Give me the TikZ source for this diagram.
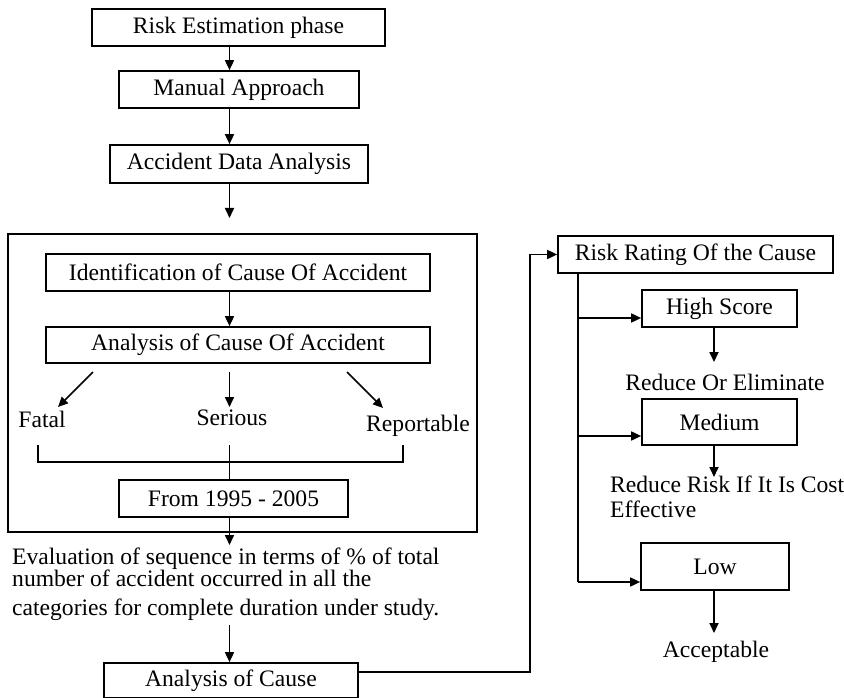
\documentclass[tikz,border=0pt]{standalone}
\usepackage{fontspec}
\setmainfont{Liberation Serif}
\usetikzlibrary{arrows.meta}
% multi-line labels keep their exact baseline spacing
\lineskiplimit=-100pt\relax
\lineskip=0pt\relax
\begin{document}
\begin{tikzpicture}[x=1pt,y=-1pt,
  every node/.style={font=\fontsize{23.6}{27}\selectfont, inner sep=0pt},
  box/.style={draw, line width=1.7pt, minimum width=#1, rectangle},
  line/.style={line width=1.7pt},
  arr/.style={line width=1.7pt, -{Triangle[length=10pt,width=9pt]}},
  lbl/.style={anchor=center},
  tight/.style={font=\fontsize{23.6}{#1}\selectfont}
]
\useasboundingbox (0,0) rectangle (844,698);

% left column
\node[box=293pt, minimum height=37pt] (est)   at (238.5,27.5) {Risk Estimation phase};
\node[box=240pt, minimum height=37pt] (man)   at (239,89.5)   {Manual Approach};
\node[box=258pt, minimum height=38pt] (acc)   at (239,164)    {Accident Data Analysis};
\coordinate (mx) at (229.5,0);
\coordinate (frametop) at (229.5,218);

\draw[arr] (est.south -| mx) -- (man.north -| mx);
\draw[arr] (man.south -| mx) -- (acc.north -| mx);
\draw[arr] (acc.south -| mx) -- (frametop);

% framed block
\node[draw, line width=1.5pt, minimum width=469pt, minimum height=298pt] (frame) at (242.5,383) {};
\node[box=384pt, minimum height=37pt] (ident) at (238,272.5) {Identification of Cause Of Accident};
\node[box=384pt, minimum height=36pt] (anal)  at (238,345)   {Analysis of Cause Of Accident};
\draw[arr] (ident.south -| mx) -- (anal.north -| mx);

\coordinate (fa1) at (93,372);  \coordinate (fa2) at (58,407);
\coordinate (se1) at (229.5,372); \coordinate (se2) at (229.5,407);
\coordinate (re1) at (347,372); \coordinate (re2) at (383,408);
\draw[arr] (fa1) -- (fa2);
\draw[arr] (se1) -- (se2);
\draw[arr] (re1) -- (re2);

\node[lbl] (fatal)   at (42,419)  {Fatal};
\node[lbl] (serious) at (232,418) {Serious};
\node[lbl] (report)  at (418,426) {Reportable};

\node[box=229pt, minimum height=37pt] (from) at (233.5,498.5) {From 1995 - 2005};

\coordinate (bl) at (38,445);  \coordinate (br) at (403,445);
\coordinate (bm) at (229.5,445);
\draw[line, line width=1.2pt] (bl) -- (38,462) -- (403,462) -- (br);
\draw[line, line width=1.2pt] (bm) -- (from.north -| mx);

% evaluation text and final box
\coordinate (evtop) at (229.5,545);
\draw[arr] (from.south -| mx) -- (evtop);
\node[anchor=base west, align=left, tight=22pt] (ev) at (12,615)
  {Evaluation of sequence in terms of \% of total\\
   number of accident occurred in all the\\[7pt]
   categories for complete duration under study.};
\coordinate (evbot) at (229.5,625);

\node[box=254pt, minimum height=35pt] (cause) at (231,680.5) {Analysis of Cause};
\draw[arr] (evbot) -- (cause.north -| mx);

% right column
\node[box=275pt, minimum height=37pt] (rr) at (695.5,254.5) {Risk Rating Of the Cause};
\coordinate (loop) at (530,672);
\draw[arr] (cause.east |- loop) -- (loop) |- (rr.west);

\node[box=155pt, minimum height=37pt] (high) at (719.5,308.5) {High Score};
\node[box=155pt, minimum height=46pt] (med)  at (719.5,422)   {Medium};
\node[box=148pt, minimum height=47pt] (low)  at (715,566.5)   {Low};

\coordinate (tx) at (578,0);
\coordinate (trunkend) at (578,582);
\draw[line] (rr.south -| tx) -- (trunkend);
\coordinate (hy) at (578,318);
\coordinate (my) at (578,436);
\draw[arr] (hy) -- (high.west |- hy);
\draw[arr] (my) -- (med.west |- my);
\draw[arr] (trunkend) -- (low.west |- trunkend);

\coordinate (dx) at (714,0);
\coordinate (hd) at (714,362);
\coordinate (md) at (714,477);
\coordinate (ld) at (714,633);
\draw[arr] (high.south -| dx) -- (hd);
\draw[arr] (med.south -| dx) -- (md);
\draw[arr] (low.south -| dx) -- (ld);

\node[lbl] (elim) at (725,382) {Reduce Or Eliminate};
\node[anchor=base west, align=left, tight=25pt] (cost) at (610,517)
  {Reduce Risk If It Is Cost\\Effective};
\node[lbl] (accept) at (716,652) {Acceptable};
\end{tikzpicture}
\end{document}
